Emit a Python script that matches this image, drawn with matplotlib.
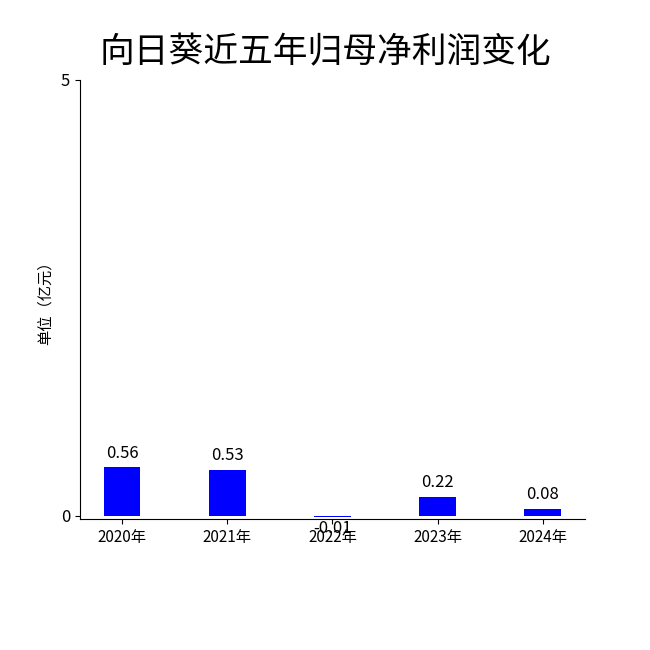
import matplotlib
matplotlib.use('Agg')
from matplotlib import pyplot as plt

plt.rcParams['font.family'] = ['Noto Sans CJK SC', 'DejaVu Sans']
plt.rcParams['axes.unicode_minus'] = False

years = ['2020年', '2021年', '2022年', '2023年', '2024年']
profit = [0.56, 0.53, -0.01, 0.22, 0.08]

fig = plt.figure(figsize=(6.5, 6.5), dpi=100)
ax = fig.add_axes([0.123, 0.2015, 0.777, 0.6755])

x = list(range(len(years)))
bars = ax.bar(x, profit, width=0.35, color='#0000ff')

for xi, v in zip(x, profit):
    if v >= 0:
        ax.annotate(f'{v:.2f}', (xi, v), xytext=(0, 4), textcoords='offset points',
                    ha='center', va='bottom', fontsize=12)
    else:
        ax.annotate(f'{v:.2f}', (xi, v), xytext=(0, -2), textcoords='offset points',
                    ha='center', va='top', fontsize=12)

ax.set_xticks(x)
ax.set_xticklabels(years, fontsize=11)
ax.set_yticks([0, 5])
ax.set_yticklabels(['0', '5'], fontsize=12)
ax.set_xlim(-0.4, 4.4)
ax.set_ylim(-0.035, 5)
ax.spines['top'].set_visible(False)
ax.spines['right'].set_visible(False)
ax.set_ylabel('单位（亿元）', fontsize=11, labelpad=5)

fig.suptitle('向日葵近五年归母净利润变化', fontsize=25, y=0.945)

fig.savefig('out.png', dpi=100)
